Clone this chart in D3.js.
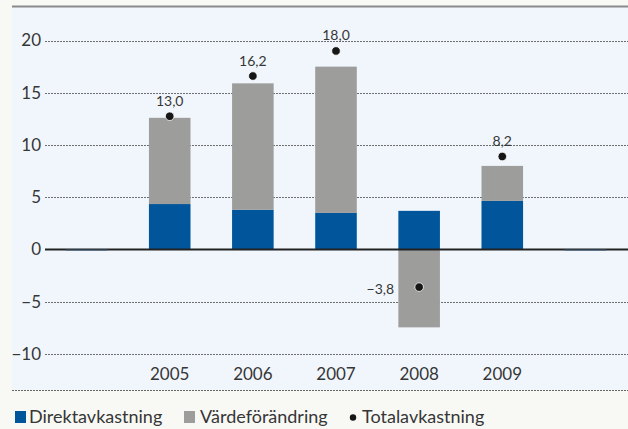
<!DOCTYPE html>
<html>
<head>
<meta charset="utf-8">
<script src="https://cdn.jsdelivr.net/npm/d3@7"></script>
<style>
  body { margin: 0; background: #f8f9f5; }
  svg { display: block; font-family: Lato, "Open Sans", sans-serif; }
</style>
</head>
<body>
<script>
// Data (first and last slots are empty)
const categories = ["2004", "2005", "2006", "2007", "2008", "2009", "2010"];
const yearLabels = ["", "2005", "2006", "2007", "2008", "2009", ""];
const direkt = [0, 4.35, 3.8, 3.5, 3.7, 4.65, 0];
const vardeforandring = [0, 8.25, 12.1, 14.0, -7.45, 3.35, 0];
const total = [null, 12.75, 16.6, 19.0, -3.6, 8.9, null];
const totalLabels = ["", "13,0", "16,2", "18,0", "\u22123,8", "8,2", ""];
const yTicks = [-10, -5, 0, 5, 10, 15, 20];

const legendItems = ["Direktavkastning", "Värdeförändring", "Totalavkastning"];

let width = 628,
    height = 429;

let blue = "#00559b",
    grey = "#9d9d9c",
    textColor = "#363636";

let svg = d3.select("body")
    .append("svg")
    .attr("width", width)
    .attr("height", height);

// Light blue panel
svg.append("rect")
    .attr("x", 12)
    .attr("y", 7)
    .attr("width", width - 12)
    .attr("height", 383)
    .attr("fill", "#f1f6fd");

// top border
svg.append("line")
    .attr("x1", 12).attr("x2", width)
    .attr("y1", 6.5).attr("y2", 6.5)
    .attr("stroke", "#8a8a8a")
    .attr("stroke-width", 2);

// bottom dashed line
svg.append("line")
    .attr("x1", 12).attr("x2", width)
    .attr("y1", 390.5).attr("y2", 390.5)
    .attr("stroke", "#666")
    .attr("stroke-dasharray", "2,1");

let xscale = d3.scaleBand()
    .domain(categories)
    .range([45, 627])
    .paddingInner(0.5)
    .paddingOuter(0.25);

let yscale = d3.scaleLinear()
    .domain([-10, 20])
    .range([354, 40.5]);

// gridlines
svg.append("g")
    .selectAll("line")
    .data(yTicks.filter(d => d !== 0))
    .enter().append("line")
    .attr("x1", 45)
    .attr("x2", width)
    .attr("y1", d => Math.round(yscale(d)) + 0.5)
    .attr("y2", d => Math.round(yscale(d)) + 0.5)
    .attr("stroke", "#6e6e6e")
    .attr("stroke-dasharray", "2,1");

// y axis labels
let yaxis = svg.append("g")
    .attr("transform", "translate(41,0)")
    .call(d3.axisLeft(yscale).tickValues(yTicks).tickSize(0).tickPadding(0));
yaxis.select(".domain").remove();
yaxis.selectAll("text")
    .style("font-family", "Lato, 'Open Sans', sans-serif")
    .style("font-size", "17px")
    .attr("fill", textColor);

// stacked bars
let rows = categories.map((c, i) => ({ cat: c, direkt: direkt[i], varde: vardeforandring[i] }));
let series = d3.stack()
    .keys(["direkt", "varde"])
    .offset(d3.stackOffsetDiverging)(rows);

let color = d3.scaleOrdinal()
    .domain(["direkt", "varde"])
    .range([blue, grey]);

svg.append("g")
    .selectAll("g")
    .data(series)
    .enter().append("g")
    .attr("fill", d => color(d.key))
    .selectAll("rect")
    .data(d => d)
    .enter().append("rect")
    .attr("x", d => xscale(d.data.cat))
    .attr("y", d => yscale(Math.max(d[0], d[1])))
    .attr("width", xscale.bandwidth())
    .attr("height", d => Math.abs(yscale(d[0]) - yscale(d[1])));

// zero line
svg.append("line")
    .attr("x1", 45).attr("x2", width)
    .attr("y1", yscale(0)).attr("y2", yscale(0))
    .attr("stroke", "#222")
    .attr("stroke-width", 2);

// empty slots: thin bar on the zero line
svg.append("g")
    .selectAll("rect")
    .data(categories.filter((c, i) => direkt[i] === 0))
    .enter().append("rect")
    .attr("x", d => xscale(d))
    .attr("y", yscale(0))
    .attr("width", xscale.bandwidth())
    .attr("height", 1)
    .attr("fill", "#3a5a78");

// year labels
svg.append("g")
    .selectAll("text")
    .data(categories)
    .enter().append("text")
    .attr("x", d => xscale(d) + xscale.bandwidth() / 2)
    .attr("y", 380)
    .attr("text-anchor", "middle")
    .style("font-size", "17px")
    .attr("fill", textColor)
    .text((d, i) => yearLabels[i]);

// total dots and labels
let totals = categories.map((c, i) => ({ cat: c, v: total[i], label: totalLabels[i] }))
    .filter(d => d.v !== null);

svg.append("g")
    .selectAll("circle")
    .data(totals)
    .enter().append("circle")
    .attr("cx", d => xscale(d.cat) + xscale.bandwidth() / 2)
    .attr("cy", d => yscale(d.v))
    .attr("r", 4.3)
    .attr("fill", "#161616")
    .attr("stroke", "#fff")
    .attr("stroke-width", 0.8);

svg.append("g")
    .selectAll("text")
    .data(totals)
    .enter().append("text")
    .attr("x", d => xscale(d.cat) + xscale.bandwidth() / 2 + (d.v < 0 ? -25 : 0))
    .attr("y", d => yscale(d.v) + (d.v < 0 ? 7 : -10.5))
    .attr("text-anchor", d => d.v < 0 ? "end" : "middle")
    .style("font-size", "14px")
    .attr("fill", textColor)
    .text(d => d.label);

// legend
let legend = svg.append("g")
    .attr("transform", "translate(0,423)");

legend.append("rect")
    .attr("x", 15).attr("y", -12)
    .attr("width", 11).attr("height", 12)
    .attr("fill", blue);
legend.append("text")
    .attr("x", 29).attr("y", 0)
    .style("font-size", "18px")
    .attr("fill", textColor)
    .text(legendItems[0]);

legend.append("rect")
    .attr("x", 184).attr("y", -12)
    .attr("width", 11).attr("height", 12)
    .attr("fill", grey);
legend.append("text")
    .attr("x", 200).attr("y", 0)
    .style("font-size", "18px")
    .attr("fill", textColor)
    .text(legendItems[1]);

legend.append("circle")
    .attr("cx", 353).attr("cy", -5.5)
    .attr("r", 3.2)
    .attr("fill", "#161616");
legend.append("text")
    .attr("x", 362).attr("y", 0)
    .style("font-size", "18px")
    .attr("fill", textColor)
    .text(legendItems[2]);
</script>
</body>
</html>
